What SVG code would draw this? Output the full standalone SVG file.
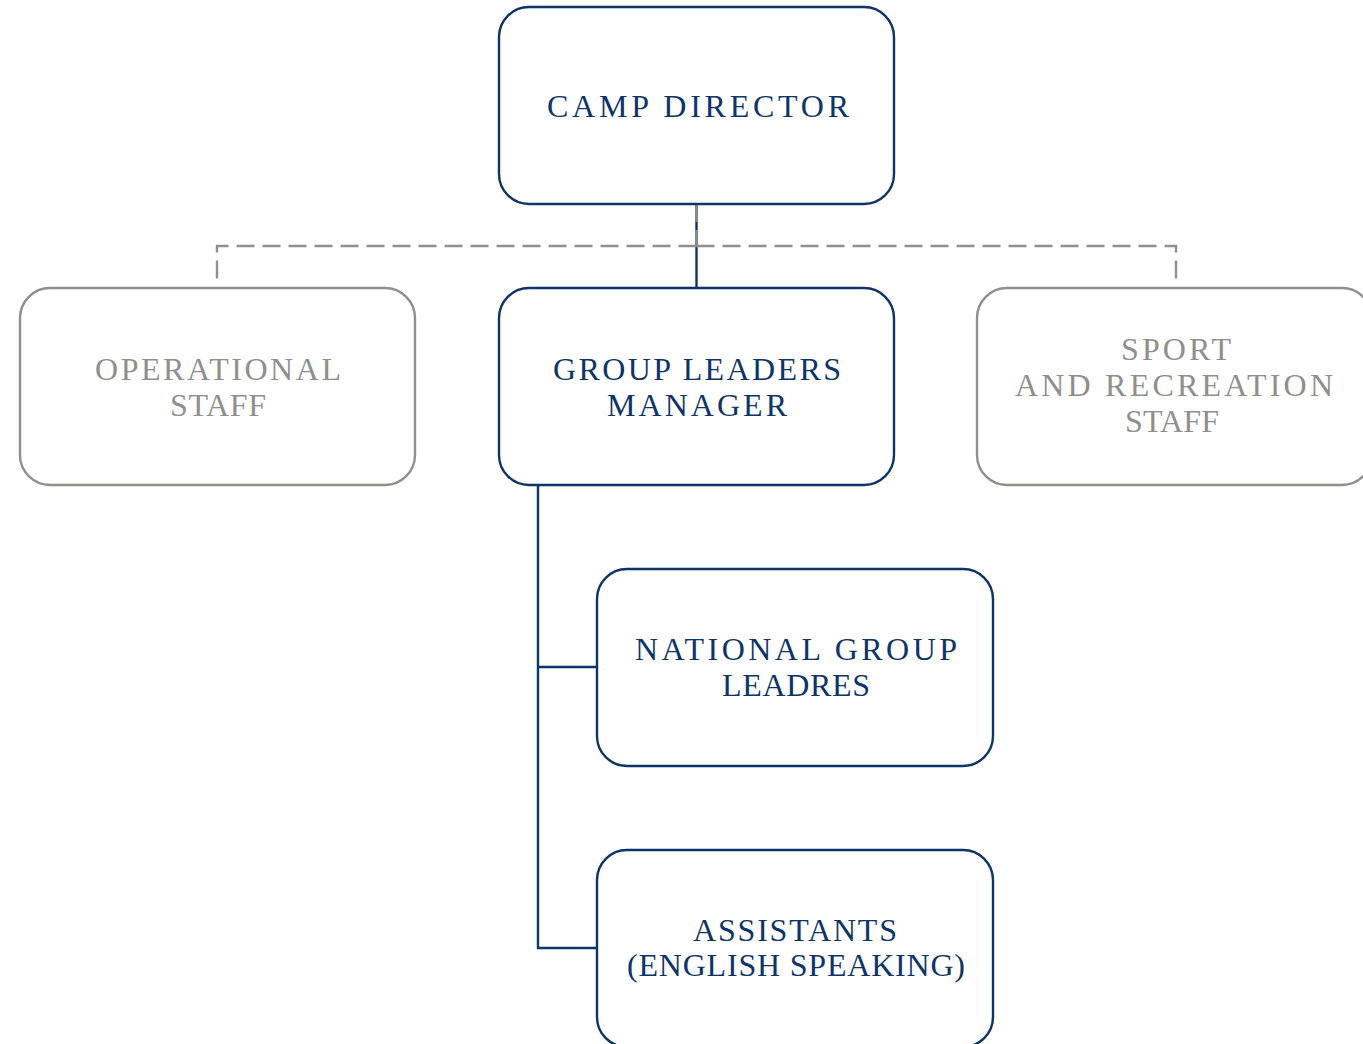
<svg xmlns="http://www.w3.org/2000/svg" width="1363" height="1044" viewBox="0 0 1363 1044">
<style>
.bn{fill:#fff;stroke:#0e3468;stroke-width:2.4}
.bg{fill:#fff;stroke:#8f8f8b;stroke-width:2.4}
.tn{fill:#0e3468;font-family:"Liberation Serif",serif;font-size:32px;text-anchor:middle}
.tg{fill:#8f8f8b;font-family:"Liberation Serif",serif;font-size:32px;text-anchor:middle}
.cn{fill:none;stroke:#0e3468;stroke-width:2.4}
.cg{fill:none;stroke:#8f8f8b;stroke-width:2.4;stroke-dasharray:18 8}
</style>
<rect width="1363" height="1044" fill="#fff"/>
<g id="connectors">
<path class="cn" d="M696.5,204 V288"/>
<path class="cn" d="M538,485 V948 H597 M538,667 H597"/>
<path class="cg" d="M696.5,204 V246"/>
<path class="cg" d="M696.5,246 H217 V281"/>
<path class="cg" d="M696.5,246 H1176 V281"/>
</g>
<g id="camp-director">
<rect class="bn" x="499" y="7" width="395" height="197" rx="30"/>
<text class="tn" x="698" y="117" textLength="302" lengthAdjust="spacing">CAMP DIRECTOR</text>
</g>
<g id="operational-staff">
<rect class="bg" x="20" y="288" width="395" height="197" rx="30"/>
<text class="tg" x="218" y="380" textLength="246" lengthAdjust="spacing">OPERATIONAL</text>
<text class="tg" x="218" y="416" textLength="96" lengthAdjust="spacing">STAFF</text>
</g>
<g id="group-leaders-manager">
<rect class="bn" x="499" y="288" width="395" height="197" rx="30"/>
<text class="tn" x="697" y="380" textLength="288" lengthAdjust="spacing">GROUP LEADERS</text>
<text class="tn" x="697" y="416" textLength="180" lengthAdjust="spacing">MANAGER</text>
</g>
<g id="sport-recreation-staff">
<rect class="bg" x="977" y="288" width="395" height="197" rx="30"/>
<text class="tg" x="1176" y="360" textLength="110" lengthAdjust="spacing">SPORT</text>
<text class="tg" x="1174" y="396" textLength="318" lengthAdjust="spacing">AND RECREATION</text>
<text class="tg" x="1172" y="432" textLength="94" lengthAdjust="spacing">STAFF</text>
</g>
<g id="national-group-leadres">
<rect class="bn" x="597" y="569" width="396" height="197" rx="30"/>
<text class="tn" x="796" y="660" textLength="322" lengthAdjust="spacing">NATIONAL GROUP</text>
<text class="tn" x="796" y="696" textLength="148" lengthAdjust="spacing">LEADRES</text>
</g>
<g id="assistants">
<rect class="bn" x="597" y="850" width="396" height="197" rx="30"/>
<text class="tn" x="795" y="941" textLength="204" lengthAdjust="spacing">ASSISTANTS</text>
<text class="tn" x="796" y="976" textLength="338" lengthAdjust="spacing">(ENGLISH SPEAKING)</text>
</g>
</svg>
